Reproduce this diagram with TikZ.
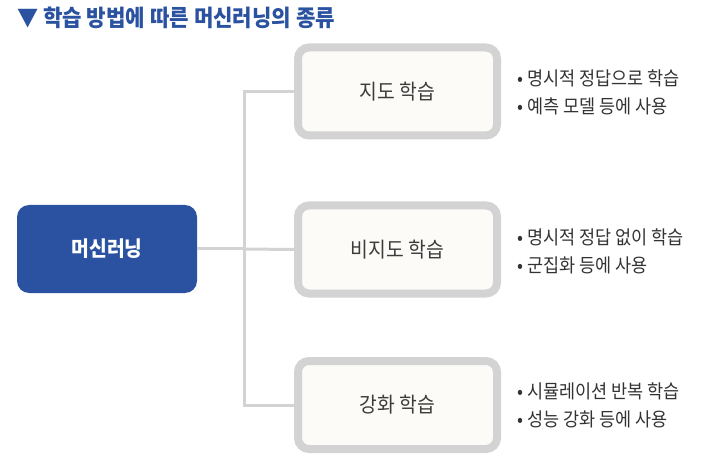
\documentclass[tikz,border=0pt]{standalone}
\usepackage{fontspec}
\newfontfamily\kr{Noto Sans CJK KR}[FakeStretch=0.92]
\definecolor{mainblue}{HTML}{2A52A0}
\definecolor{linegray}{HTML}{D3D3D3}
\definecolor{boxfill}{HTML}{FCFBF8}
\definecolor{boxtext}{HTML}{3C3C3C}
\definecolor{bultext}{HTML}{333333}
\tikzset{
  conn/.style={draw=linegray, line width=3pt},
  rootbox/.style={fill=mainblue, rounded corners=12pt, minimum width=180pt, minimum height=88pt, inner sep=0pt, text=white, font=\kr\bfseries\fontsize{21}{24}\selectfont},
  catbox/.style={draw=linegray, line width=8pt, fill=boxfill, rounded corners=11pt, minimum width=199pt, minimum height=88pt, inner sep=0pt, text=boxtext, font=\kr\fontsize{21}{24}\selectfont},
  bullets/.style={anchor=west, align=left, inner sep=0pt, text=bultext, font=\kr\fontsize{19}{28}\selectfont},
}
\begin{document}
\begin{tikzpicture}[x=1pt, y=-1pt]
\useasboundingbox (0,0) rectangle (725,462);
\node[anchor=west, inner sep=0pt, text=mainblue, font=\kr\bfseries\fontsize{23}{26}\selectfont] (title) at (17,18) {▼ 학습 방법에 따른 머신러닝의 종류};
\node[rootbox] (ml) at (107,249) {머신러닝};
\node[catbox] (b1) at (397.5,91.5) {지도 학습};
\node[catbox] (b2) at (397.5,249.5) {비지도 학습};
\node[catbox] (b3) at (397.5,405) {강화 학습};
\coordinate (j) at (244,249);
\coordinate (t1) at (244,91.5);
\coordinate (t3) at (244,405);
\draw[conn] (ml.east) -- (j);
\draw[conn] (b1.west) -- (t1) -- (t3) -- (b3.west);
\draw[conn] (j) -- (b2.west);
\node[bullets] (n1) at (517,92) {• 명시적 정답으로 학습\\• 예측 모델 등에 사용};
\node[bullets] (n2) at (517,251) {• 명시적 정답 없이 학습\\• 군집화 등에 사용};
\node[bullets] (n3) at (517,405) {• 시뮬레이션 반복 학습\\• 성능 강화 등에 사용};
\end{tikzpicture}
\end{document}
